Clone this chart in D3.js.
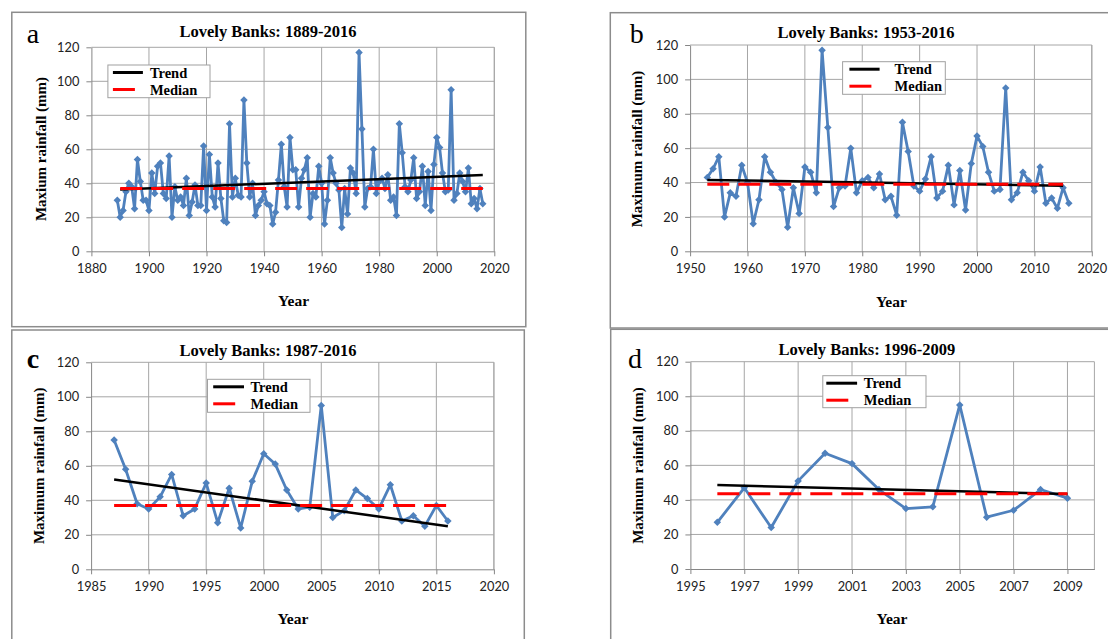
<!DOCTYPE html>
<html>
<head>
<meta charset="utf-8">
<script src="https://cdn.jsdelivr.net/npm/d3@7"></script>
<style>
  body { margin: 0; background: #fff; }
  svg { display: block; }
</style>
</head>
<body>
<div id="chart"></div>
<script>
// annual maximum rainfall at Lovely Banks, 1889-2016 (mm)
var rainYears = d3.range(1889, 2017);
var rainMax = [
  30, 20, 24, 35, 40, 38, 25, 54, 41, 30,   // 1889-1898
  30, 24, 46, 34, 50, 52, 34, 31, 56, 20,   // 1899-1908
  38, 30, 32, 27, 43, 21, 29, 39, 27, 27,   // 1909-1918
  62, 24, 57, 32, 26, 52, 31, 18, 17, 75,   // 1919-1928
  32, 43, 33, 32, 89, 52, 32, 40, 21, 27,   // 1929-1938
  30, 35, 28, 27, 16, 23, 42, 63, 38, 26,   // 1939-1948
  67, 48, 48, 26, 43, 48, 55, 20, 34, 32,   // 1949-1958
  50, 40, 16, 30, 55, 46, 40, 36, 14, 37,   // 1959-1968
  22, 49, 46, 34, 117, 72, 26, 37, 38, 60,  // 1969-1978
  34, 41, 43, 37, 45, 30, 32, 21, 75, 58,   // 1979-1988
  38, 35, 42, 55, 31, 35, 50, 27, 47, 24,   // 1989-1998
  51, 67, 61, 46, 35, 36, 95, 30, 34, 46,   // 1999-2008
  41, 35, 49, 28, 31, 25, 37, 28            // 2009-2016
];

var panelLetters = ['a', 'b', 'c', 'd'];
var panelTitles = ['Lovely Banks: 1889-2016', 'Lovely Banks: 1953-2016',
                   'Lovely Banks: 1987-2016', 'Lovely Banks: 1996-2009'];
var yTitles = ['Maxium rainfall (mm)', 'Maximum rainfall (mm)',
               'Maximum rainfall (mm)', 'Maximum rainfall (mm)'];
var periodStart = [1889, 1953, 1987, 1996];
var periodEnd = [2016, 2016, 2016, 2009];
var xDomains = [[1880, 2020], [1950, 2020], [1985, 2020], [1995, 2010]];
var xTickLabels = [
  [1880, 1900, 1920, 1940, 1960, 1980, 2000, 2020],
  [1950, 1960, 1970, 1980, 1990, 2000, 2010, 2020],
  [1985, 1990, 1995, 2000, 2005, 2010, 2015, 2020],
  [1995, 1997, 1999, 2001, 2003, 2005, 2007, 2009]
];
var yTickLabels = [0, 20, 40, 60, 80, 100, 120];
var trendYears = [[1890, 2016], [1953, 2015], [1987, 2016], [1996, 2009]];
var trendValues = [[36.3, 44.9], [41.5, 38.2], [52, 25], [48.6, 43.4]];
var medianYears = [[1890, 2016], [1953, 2015], [1987, 2016], [1996, 2009]];
var medianValues = [37, 39, 37, 43.5];
var legendLabels = ['Trend', 'Median'];

// page layout for each panel (pixels)
var layout = [
  { frame: [11.8, 12.3, 514, 314.4], plot: [91.4, 47.3, 494.3, 251.3],
    title: [268, 37], letter: [26.8, 43.3, false], yTitle: [45.5, 149], xTitle: [293.6, 305.7],
    legend: [107.9, 65, 102.1, 32.7], lineX: [5, 35], textX: 42 },
  { frame: [610.3, 12.7, 520, 315.3], plot: [690.1, 45, 1091.8, 251.3],
    title: [866, 38.3], letter: [629.8, 43.3, false], yTitle: [642, 149], xTitle: [891.4, 306.7],
    legend: [842.6, 61.7, 102.7, 32.6], lineX: [6.8, 37], textX: 52 },
  { frame: [11.8, 330, 512.5, 330], plot: [91.1, 362.3, 493.9, 569.3],
    title: [268, 355.7], letter: [26.8, 368.3, true], yTitle: [43.5, 465.8], xTitle: [292.9, 624],
    legend: [207.5, 379.3, 102.5, 33], lineX: [5.7, 36.5], textX: 43 },
  { frame: [610.7, 329.3, 520, 330], plot: [690.4, 361.7, 1094.4, 569],
    title: [866.9, 355], letter: [628, 368.3, false], yTitle: [643, 465.5], xTitle: [892, 624],
    legend: [822.8, 375.7, 103.2, 32], lineX: [3.5, 34.3], textX: 41 }
];

var serif = '"Liberation Serif", "Times New Roman", serif';
var sans = 'Lato, "Liberation Sans", sans-serif';
var gridColor = '#a6a6a6';
var blue = '#4f81bd';

var svg = d3.select('#chart').append('svg')
  .attr('width', 1108)
  .attr('height', 639);

var drawPanel = function(i) {
  var L = layout[i];
  var g = svg.append('g');

  // panel frame
  g.append('rect')
    .attr('x', L.frame[0]).attr('y', L.frame[1])
    .attr('width', L.frame[2]).attr('height', L.frame[3])
    .attr('fill', '#fff').attr('stroke', '#8c8c8c').attr('stroke-width', 1.5);

  var x = d3.scaleLinear().domain(xDomains[i]).range([L.plot[0], L.plot[2]]);
  var y = d3.scaleLinear().domain([0, 120]).range([L.plot[3], L.plot[1]]);

  // gridlines
  g.selectAll('line.hgrid').data(yTickLabels.slice(1))
    .enter().append('line')
    .attr('x1', L.plot[0]).attr('x2', L.plot[2])
    .attr('y1', function(d) { return y(d); }).attr('y2', function(d) { return y(d); })
    .attr('stroke', gridColor).attr('stroke-width', 1);
  var vg = xTickLabels[i].slice(1).concat([xDomains[i][1]]);
  g.selectAll('line.vgrid').data(vg)
    .enter().append('line')
    .attr('x1', function(d) { return x(d); }).attr('x2', function(d) { return x(d); })
    .attr('y1', L.plot[1]).attr('y2', L.plot[3])
    .attr('stroke', gridColor).attr('stroke-width', 1);

  // axes
  var xAxis = d3.axisBottom(x).tickValues(xTickLabels[i]).tickFormat(d3.format('d'))
    .tickSizeInner(5).tickSizeOuter(0).tickPadding(8);
  var yAxis = d3.axisLeft(y).tickValues(yTickLabels).tickSizeInner(5).tickSizeOuter(0).tickPadding(7);
  var gx = g.append('g').attr('transform', 'translate(0,' + L.plot[3] + ')').call(xAxis);
  var gy = g.append('g').attr('transform', 'translate(' + L.plot[0] + ',0)').call(yAxis);
  [gx, gy].forEach(function(a) {
    a.selectAll('path, line').attr('stroke', '#868686');
    a.selectAll('text').attr('fill', '#222').style('font-family', sans).style('font-size', '12.8px');
  });

  // series for this period
  var pts = rainYears.map(function(yr, k) { return { yr: yr, v: rainMax[k] }; })
    .filter(function(d) { return d.yr >= periodStart[i] && d.yr <= periodEnd[i]; });

  g.append('path').datum(pts)
    .attr('fill', 'none').attr('stroke', blue).attr('stroke-width', 2.8)
    .attr('stroke-linejoin', 'round')
    .attr('d', d3.line().x(function(d) { return x(d.yr); }).y(function(d) { return y(d.v); }));
  g.selectAll('path.marker').data(pts)
    .enter().append('path')
    .attr('transform', function(d) { return 'translate(' + x(d.yr) + ',' + y(d.v) + ') rotate(45)'; })
    .attr('d', d3.symbol().type(d3.symbolSquare).size(28))
    .attr('fill', blue);

  // trend and median
  g.append('line')
    .attr('x1', x(trendYears[i][0])).attr('x2', x(trendYears[i][1]))
    .attr('y1', y(trendValues[i][0])).attr('y2', y(trendValues[i][1]))
    .attr('stroke', '#000').attr('stroke-width', 2.5);
  g.append('line')
    .attr('x1', x(medianYears[i][0])).attr('x2', x(medianYears[i][1]))
    .attr('y1', y(medianValues[i])).attr('y2', y(medianValues[i]))
    .attr('stroke', '#ff0000').attr('stroke-width', 3).attr('stroke-dasharray', '22,9');

  // titles
  g.append('text').text(panelTitles[i])
    .attr('x', L.title[0]).attr('y', L.title[1]).attr('text-anchor', 'middle')
    .style('font-family', serif).style('font-weight', 'bold').style('font-size', '16.5px');
  g.append('text').text(panelLetters[i])
    .attr('x', L.letter[0]).attr('y', L.letter[1])
    .style('font-family', serif).style('font-weight', L.letter[2] ? 'bold' : 'normal')
    .style('font-size', '28px');
  g.append('text').text(yTitles[i])
    .attr('transform', 'translate(' + L.yTitle[0] + ',' + L.yTitle[1] + ') rotate(-90)')
    .attr('text-anchor', 'middle')
    .style('font-family', serif).style('font-weight', 'bold').style('font-size', '15px');
  g.append('text').text('Year')
    .attr('x', L.xTitle[0]).attr('y', L.xTitle[1]).attr('text-anchor', 'middle')
    .style('font-family', serif).style('font-weight', 'bold').style('font-size', '15.5px');

  // legend
  var lg = g.append('g').attr('transform', 'translate(' + L.legend[0] + ',' + L.legend[1] + ')');
  lg.append('rect').attr('width', L.legend[2]).attr('height', L.legend[3])
    .attr('fill', '#fff').attr('stroke', '#a0a0a0').attr('stroke-width', 1);
  var rowY = [7.5, 24.5];
  lg.selectAll('line.key').data(legendLabels)
    .enter().append('line')
    .attr('x1', L.lineX[0]).attr('x2', L.lineX[1])
    .attr('y1', function(d, k) { return rowY[k]; }).attr('y2', function(d, k) { return rowY[k]; })
    .attr('stroke', function(d, k) { return k === 0 ? '#000' : '#ff0000'; })
    .attr('stroke-width', 3)
    .attr('stroke-dasharray', function(d, k) { return k === 0 ? null : '22,9'; });
  lg.selectAll('text.key').data(legendLabels)
    .enter().append('text').text(function(d) { return d; })
    .attr('x', L.textX).attr('y', function(d, k) { return rowY[k] + 5; })
    .style('font-family', serif).style('font-weight', 'bold').style('font-size', '14.5px');
};

for (var i = 0; i < 4; i++) drawPanel(i);
</script>
</body>
</html>
